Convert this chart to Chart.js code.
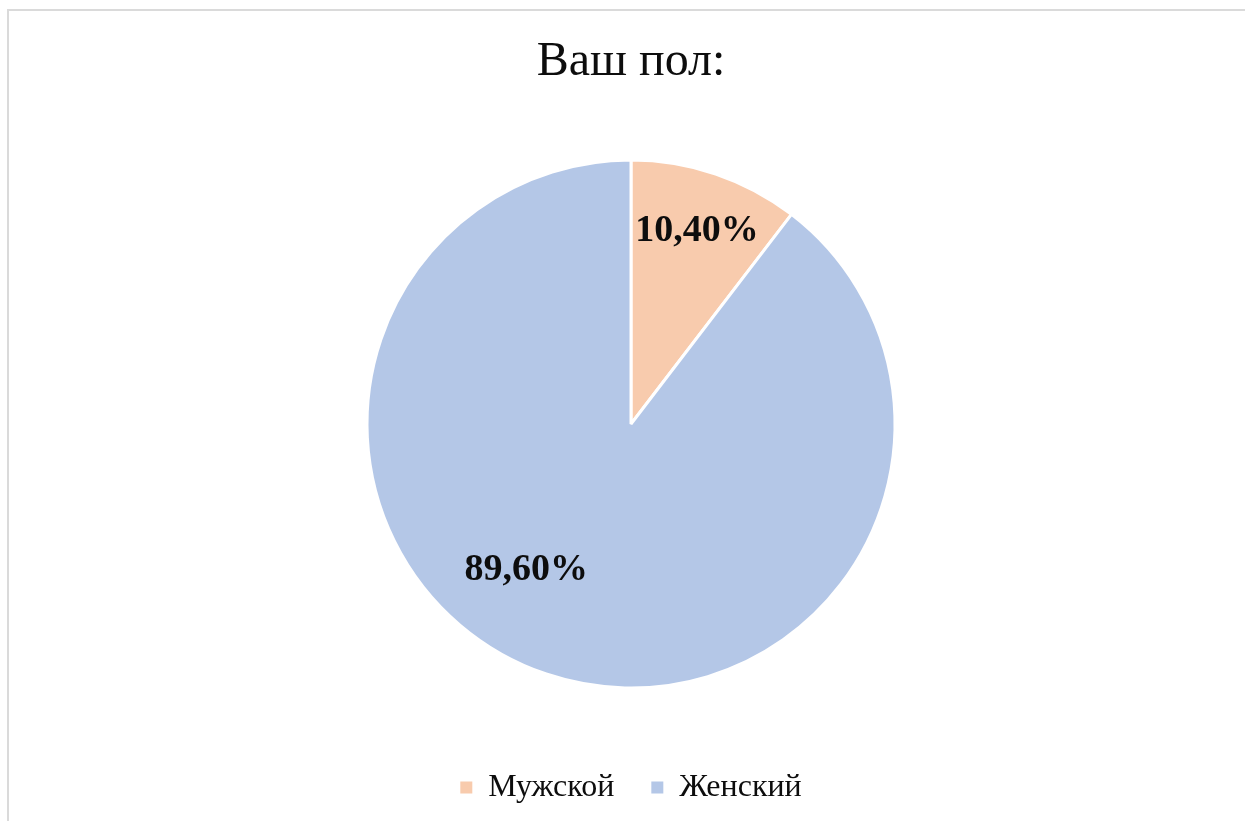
<!DOCTYPE html>
<html>
<head>
<meta charset="utf-8">
<script src="https://cdn.jsdelivr.net/npm/chart.js@4"></script>
<style>
    html, body { margin: 0; padding: 0; background: #fff; overflow: hidden; width: 1245px; height: 821px; }
    #frame { position: absolute; left: 7px; top: 9px; width: 1300px; height: 900px; border: 2px solid #dadada; box-sizing: border-box; }
    #wrap { position: absolute; left: 17px; top: 0; width: 1228px; height: 880px; }
</style>
</head>
<body>
<div id="frame"></div>
<div id="wrap"><canvas id="pie"></canvas></div>
<script>
// --- Data ---
const chartTitle = 'Ваш пол:';
const categories = ['Мужской', 'Женский'];
const shares = [10.4, 89.6];
const sliceColors = ['#f8cbad', '#b4c7e7'];

const serif = "'Liberation Serif', 'Times New Roman', serif";
const fmtPct = (v) => v.toFixed(2).replace('.', ',') + '%';

// label spots inside each slice: fraction of radius, angle shift (deg) from slice middle
const labelSpots = [
    { r: 0.78, shift: 0 },
    { r: 0.675, shift: 17.3 }
];

const sliceLabels = {
    id: 'sliceLabels',
    afterDatasetsDraw(chart) {
        const ctx = chart.ctx;
        const meta = chart.getDatasetMeta(0);
        ctx.save();
        ctx.font = 'bold 38px ' + serif;
        ctx.fillStyle = '#0d0d0d';
        ctx.textAlign = 'center';
        ctx.textBaseline = 'middle';
        meta.data.forEach((arc, i) => {
            const p = arc.getProps(['x', 'y', 'startAngle', 'endAngle', 'outerRadius'], true);
            const spot = labelSpots[i];
            const mid = (p.startAngle + p.endAngle) / 2 + spot.shift * Math.PI / 180;
            const rr = p.outerRadius * spot.r;
            ctx.fillText(fmtPct(shares[i]), p.x + Math.cos(mid) * rr, p.y + Math.sin(mid) * rr + 2);
        });
        ctx.restore();
    }
};

const baseLabels = Chart.overrides.doughnut.plugins.legend.labels.generateLabels;

new Chart(document.getElementById('pie'), {
    type: 'pie',
    data: {
        labels: categories,
        datasets: [{
            data: shares,
            backgroundColor: sliceColors,
            borderColor: '#ffffff',
            borderWidth: 3,
            radius: 264
        }]
    },
    options: {
        responsive: true,
        maintainAspectRatio: false,
        animation: false,
        layout: { padding: { top: 0, bottom: 66.6 } },
        plugins: {
            title: {
                display: true,
                text: chartTitle,
                color: '#0d0d0d',
                font: { family: serif, size: 48, weight: 'normal', lineHeight: 1.2 },
                padding: { top: 33.2, bottom: 30 }
            },
            legend: {
                position: 'bottom',
                // empty title only used as a spacer above the items
                title: { display: true, text: ' ', font: { size: 1 }, padding: { top: 6, bottom: 0 } },
                labels: {
                    color: '#0d0d0d',
                    font: { family: serif, size: 32 },
                    boxWidth: 12,
                    boxHeight: 12,
                    padding: 37,
                    generateLabels: (chart) => baseLabels(chart).map(l => Object.assign(l, { lineWidth: 0 }))
                }
            },
            tooltip: { enabled: false }
        }
    },
    plugins: [sliceLabels]
});
</script>
</body>
</html>
